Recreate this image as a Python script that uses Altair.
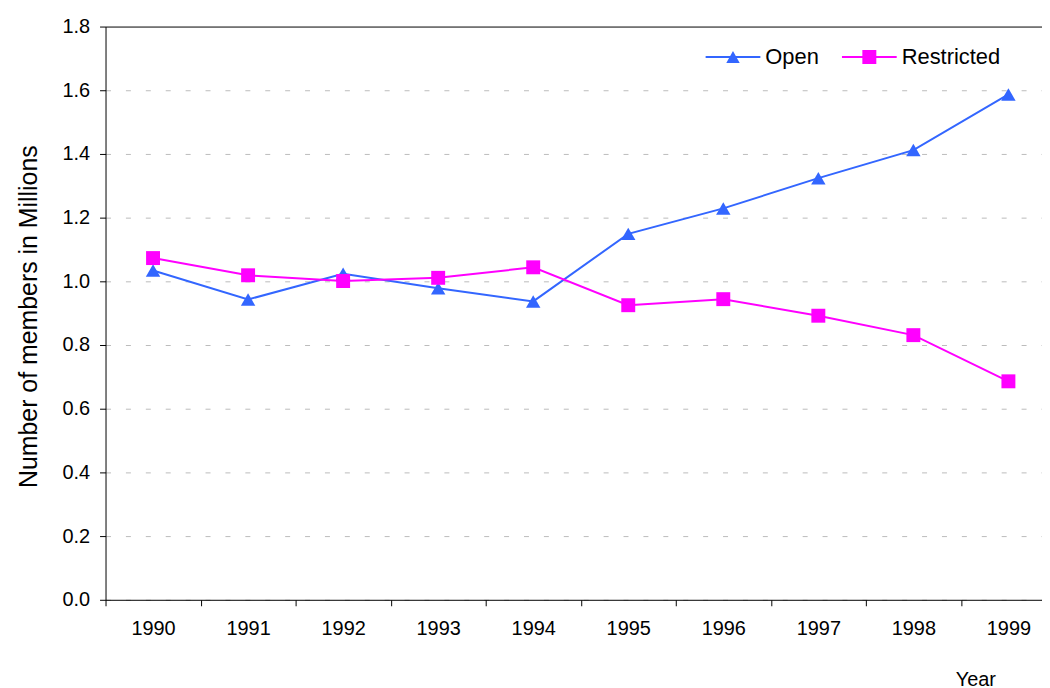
import altair as alt
import pandas as pd

# ---- data ----
years = ["1990", "1991", "1992", "1993", "1994", "1995", "1996", "1997", "1998", "1999"]
open_vals = [1.034, 0.943, 1.024, 0.978, 0.937, 1.149, 1.229, 1.324, 1.412, 1.587]
restricted_vals = [1.073, 1.019, 1.001, 1.011, 1.044, 0.925, 0.944, 0.892, 0.831, 0.686]
series_names = ["Open", "Restricted"]
series_colors = ["#3366FF", "#FF00FF"]
series_shapes = ["triangle-up", "square"]
series_sizes = [210, 196]
y_ticks = [0.0, 0.2, 0.4, 0.6, 0.8, 1.0, 1.2, 1.4, 1.6, 1.8]

FONT = "Liberation Sans"

df = pd.DataFrame({
    "Year": years * 2,
    "Members": open_vals + restricted_vals,
    "Series": [series_names[0]] * len(years) + [series_names[1]] * len(years),
})

# legend symbols: a line segment with the marker on top (normalised path units)
OPEN_PATH = "M-1,-0.036L1,-0.036L1,0.036L-1,0.036ZM-0.245,0.22L0,-0.22L0.245,0.22Z"
RESTR_PATH = "M-1,-0.036L1,-0.036L1,0.036L-1,0.036ZM-0.255,-0.255L0.255,-0.255L0.255,0.255L-0.255,0.255Z"

x_enc = alt.X(
    "Year:O",
    bandPosition=0.5,
    sort=years,
    scale=alt.Scale(type="band", paddingInner=0, paddingOuter=0, range=[0, 955]),
    axis=alt.Axis(
        title="Year",
        tickBand="extent",
        labelAngle=0,
        labelFont=FONT,
        labelFontSize=20,
        labelColor="black",
        labelPadding=13,
        tickSize=6,
        tickColor="black",
        domainColor="black",
        grid=False,
        titleFont=FONT,
        titleFontSize=20,
        titleFontWeight="normal",
        titleColor="black",
        titleX=874,
        titleY=86,
        titleAlign="center",
        titleBaseline="alphabetic",
    ),
)

y_enc = alt.Y(
    "Members:Q",
    scale=alt.Scale(domain=[0, 1.8], nice=False, zero=True),
    axis=alt.Axis(
        title="Number of members in Millions",
        values=y_ticks,
        format=".1f",
        labelFont=FONT,
        labelFontSize=20,
        labelColor="black",
        labelPadding=10,
        tickSize=6,
        tickColor="black",
        domainColor="black",
        grid=True,
        gridColor=alt.condition("datum.value >= 1.79", alt.value("black"), alt.value("#BBBBBB")),
        gridDash=alt.condition("datum.value >= 1.79", alt.value([]), alt.value([5, 15])),
        gridWidth=1,
        titleFont=FONT,
        titleFontSize=25,
        titleFontWeight="normal",
        titleColor="black",
        titleAngle=270,
        titleX=-69,
        titleY=291,
        titleAlign="center",
        titleBaseline="alphabetic",
    ),
)


def legend_for(symbol_path, x_pos):
    return alt.Legend(
        title=None,
        orient="none",
        legendX=x_pos,
        legendY=3,
        direction="horizontal",
        symbolSize=3025,
        symbolStrokeWidth=0,
        symbolType=symbol_path,
        labelFont=FONT,
        labelFontSize=22,
        labelColor="black",
        labelOffset=5,
        padding=0,
    )


lines = alt.Chart(df).mark_line(strokeWidth=2).encode(
    x=x_enc,
    y=y_enc,
    stroke=alt.Stroke("Series:N", scale=alt.Scale(domain=series_names, range=series_colors), legend=None),
)

open_pts = (
    alt.Chart(df)
    .transform_filter(alt.datum.Series == series_names[0])
    .mark_point(filled=True, opacity=1, shape=series_shapes[0], size=series_sizes[0])
    .encode(
        x=x_enc,
        y=y_enc,
        fill=alt.Fill(
            "Series:N",
            scale=alt.Scale(domain=[series_names[0]], range=[series_colors[0]]),
            legend=legend_for(OPEN_PATH, 603),
        ),
    )
)

restr_pts = (
    alt.Chart(df)
    .transform_filter(alt.datum.Series == series_names[1])
    .mark_point(filled=True, opacity=1, shape=series_shapes[1], size=series_sizes[1])
    .encode(
        x=x_enc,
        y=y_enc,
        color=alt.Color(
            "Series:N",
            scale=alt.Scale(domain=[series_names[1]], range=[series_colors[1]]),
            legend=legend_for(RESTR_PATH, 740),
        ),
    )
)

chart = (
    alt.layer(lines, open_pts, restr_pts)
    .properties(
        width=941,
        height=576,
        autosize=alt.AutoSizeParams(type="none"),
        padding={"left": 98, "top": 17, "right": 0, "bottom": 88},
        background="white",
    )
    .configure_view(strokeWidth=0)
)

chart.save("out.html", embed_options={"renderer": "svg", "actions": False})
